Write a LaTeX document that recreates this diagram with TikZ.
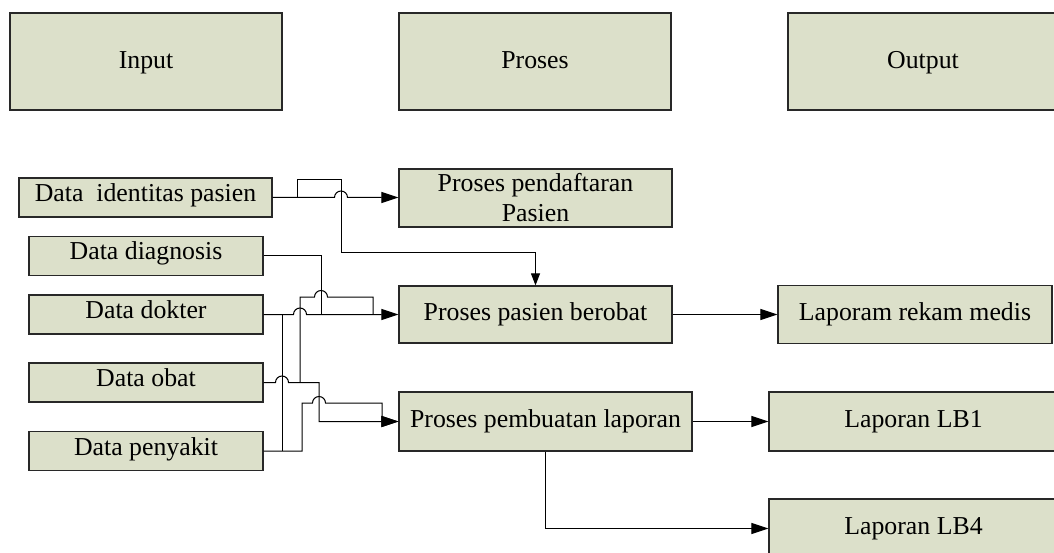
\documentclass[tikz,border=0pt]{standalone}
\usepackage{fontspec}
\setmainfont{Liberation Serif}
\usetikzlibrary{arrows.meta}
\definecolor{boxfill}{RGB}{220,224,202}
\definecolor{boxline}{RGB}{40,40,40}
\begin{document}
\begin{tikzpicture}[x=1pt,y=1pt,
  every node/.style={font=\fontsize{25.8}{30}\selectfont},
  box/.style={draw=boxline,line width=1.2pt,fill=boxfill,inner sep=0pt},
  headbox/.style={box,line width=1.4pt,minimum width=272pt,minimum height=97pt,text height=17pt,text depth=3pt},
  databox/.style={box,minimum width=234pt,minimum height=39pt,text height=17pt,text depth=9pt},
  procbox/.style={box,minimum height=57pt},
  outbox/.style={box,minimum height=58pt},
  wire/.style={line width=1pt,line join=miter},
  flow/.style={wire,-{Triangle[length=17pt,width=11pt]}},
  down/.style={wire,-{Triangle[length=12pt,width=9pt]}}]
\useasboundingbox (0,0) rectangle (1054,-553);
\clip (0,0) rectangle (1054,-553);

% column headers
\node[headbox] (input)  at (146,-61.5) {Input};
\node[headbox] (proses) at (535,-61.5) {Proses};
\node[headbox,minimum width=270pt] (output) at (923,-61.5) {Output};

% input data
\node[databox,minimum width=253pt] (ident) at (145.5,-197.5) {Data\ \ identitas pasien};
\node[databox] (diag)  at (146,-256)   {Data diagnosis};
\node[databox] (dokt)  at (146,-314.5) {Data dokter};
\node[databox] (obat)  at (146,-382.5) {Data obat};
\node[databox] (peny)  at (146,-451)   {Data penyakit};

% processes
\node[procbox,minimum width=273pt,minimum height=58pt,align=center] (daftar) at (535.5,-198) {Proses pendaftaran\\Pasien};
\node[procbox,minimum width=273pt] (berobat) at (535.5,-314.5) {Proses pasien berobat};
\node[procbox,minimum width=293pt,minimum height=59pt] (buat) at (545.5,-421.5) {Proses pembuatan laporan};

% outputs
\node[outbox,minimum width=274pt] (rekam) at (915,-314.5) {Laporam rekam medis};
\node[outbox,minimum width=289pt,minimum height=59pt] (lb1) at (913.5,-421.5) {Laporan LB1};
\node[outbox,minimum width=289pt,minimum height=59pt] (lb4) at (913.5,-528.5) {Laporan LB4};

% registration flow
\draw[flow] (ident.east) -- (334.5,-197.5) arc[start angle=180,end angle=0,radius=6.5pt] -- (daftar.west |- ident.east);
\draw[down] (297,-197.5) -- (297,-180) -- (341,-180) -- (341,-253) -- (535.5,-253) -- (berobat.north);

% inputs to the treatment process
\draw[wire] (diag.east) -- (321,-256) -- (321,-314.5);
\draw[flow] (dokt.east) -- (293.5,-314.5) arc[start angle=180,end angle=0,radius=6.5pt] -- (berobat.west);
\draw[wire] (300,-382.5) -- (300,-297) -- (314.5,-297) arc[start angle=180,end angle=0,radius=6.5pt] -- (373,-297) -- (373,-314.5);
\draw[wire] (282,-451) -- (282,-314.5);

% inputs to the reporting process
\draw[flow] (obat.east) -- (275.5,-382.5) arc[start angle=180,end angle=0,radius=6.5pt] -- (319,-382.5) -- (319,-421.5) -- (buat.west);
\draw[flow] (peny.east) -- (302,-451) -- (302,-403) -- (312.5,-403) arc[start angle=180,end angle=0,radius=6.5pt] -- (382,-403) -- (382,-421.5) -- (buat.west);

% outputs
\draw[flow] (berobat.east) -- (rekam.west);
\draw[flow] (buat.east) -- (lb1.west);
\draw[flow] (buat.south) -- (buat.south |- lb4.west) -- (lb4.west);
\end{tikzpicture}
\end{document}
